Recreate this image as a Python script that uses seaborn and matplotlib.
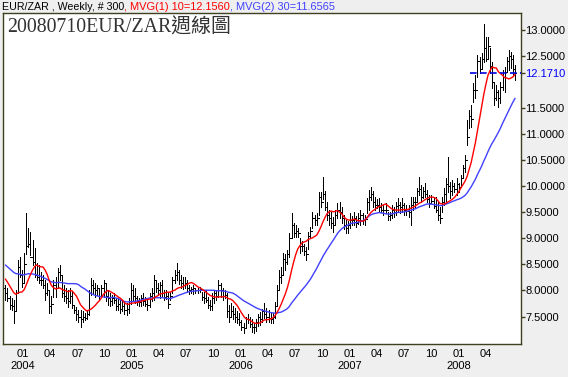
import numpy as np
import pandas as pd
import matplotlib
matplotlib.use("Agg")
import matplotlib.pyplot as plt
import matplotlib.dates as mdates
import seaborn as sns

sns.set_style("white")
plt.rcParams["font.family"] = ["Liberation Sans", "DejaVu Sans"]

# ---------------- data ----------------
first_week = "2003-11-03"

# weekly closes before the visible window (only feed the moving averages)
prior_closes = [8.90, 8.80, 8.75, 8.70, 8.65, 8.60, 8.55, 8.50, 8.45,
                8.50, 8.60, 8.70, 8.65, 8.60, 8.55, 8.60, 8.65, 8.60, 8.55, 8.60,
                8.45, 8.40, 8.35, 8.30, 8.25, 8.20, 8.15, 8.10, 8.05]

highs = [
    8.11, 8.05, 7.90, 7.85, 7.82, 8.00, 8.59, 8.64, 8.40, 8.72,
    9.49, 9.20, 9.12, 8.97, 8.82, 8.53, 8.49, 8.36, 8.30, 8.20,
    8.14, 8.00, 7.90, 8.20, 8.25, 8.43, 8.49, 8.30, 8.10, 8.05,
    8.00, 8.05, 7.97, 7.72, 7.68, 7.63, 7.63, 7.60, 7.57, 7.63,
    8.00, 8.24, 8.20, 8.14, 8.10, 8.05, 8.10, 8.20, 8.14, 8.00,
    7.95, 7.91, 7.95, 7.86, 7.86, 7.82, 7.80, 7.80, 7.76, 7.86,
    8.14, 8.10, 8.05, 7.90, 7.86, 7.91, 7.95, 7.88, 7.86, 7.95,
    8.05, 8.30, 8.20, 8.14, 8.16, 8.20, 8.00, 8.00, 7.97, 7.97,
    8.26, 8.39, 8.53, 8.39, 8.30, 8.25, 8.25, 8.20, 8.10, 8.07,
    8.10, 8.05, 8.05, 8.07, 7.97, 7.97, 8.00, 7.88, 7.82, 7.95,
    8.00, 8.00, 8.20, 8.14, 8.05, 8.00, 7.95, 7.72, 7.76, 7.70,
    7.66, 7.60, 7.57, 7.43, 7.38, 7.50, 7.55, 7.49, 7.45, 7.38,
    7.45, 7.55, 7.59, 7.65, 7.76, 7.66, 7.62, 7.57, 7.57, 7.78,
    8.10, 8.39, 8.45, 8.72, 8.70, 8.78, 9.10, 9.49, 9.30, 9.25,
    9.20, 9.00, 8.95, 8.90, 8.84, 9.12, 9.22, 9.50, 9.45, 9.48,
    9.89, 9.89, 10.18, 9.90, 9.70, 9.55, 9.50, 9.41, 9.55, 9.68,
    9.70, 9.60, 9.45, 9.36, 9.33, 9.48, 9.42, 9.50, 9.42, 9.48,
    9.55, 9.48, 9.44, 9.78, 9.93, 9.99, 9.90, 9.80, 9.75, 9.78,
    9.68, 9.65, 9.68, 9.50, 9.50, 9.64, 9.60, 9.70, 9.78, 9.70,
    9.78, 9.68, 9.64, 9.64, 9.80, 9.80, 9.80, 9.97, 10.18, 10.02,
    9.99, 10.06, 9.93, 9.83, 9.83, 9.78, 9.80, 9.70, 9.60, 9.80,
    9.97, 10.16, 10.56, 10.08, 10.12, 10.06, 10.16, 10.06, 10.22, 10.41,
    10.60, 11.27, 11.46, 11.56, 11.98, 12.14, 12.52, 12.48, 12.56, 13.12,
    12.87, 12.87, 12.65, 12.39, 12.00, 11.94, 11.85, 12.00, 12.23, 12.29,
    12.48, 12.62, 12.58, 12.52, 12.33,
]

lows = [
    7.82, 7.80, 7.65, 7.62, 7.38, 7.60, 7.95, 8.26, 8.07, 8.15,
    8.70, 8.84, 8.68, 8.49, 8.26, 8.20, 8.14, 8.11, 8.05, 7.82,
    7.91, 7.57, 7.57, 7.88, 7.88, 8.07, 8.20, 7.88, 7.80, 7.76,
    7.68, 7.76, 7.66, 7.57, 7.43, 7.40, 7.30, 7.40, 7.43, 7.46,
    7.53, 7.91, 7.95, 7.88, 7.91, 7.82, 7.88, 7.88, 7.80, 7.72,
    7.70, 7.72, 7.76, 7.63, 7.63, 7.57, 7.60, 7.55, 7.53, 7.57,
    7.75, 7.80, 7.76, 7.72, 7.70, 7.70, 7.72, 7.70, 7.63, 7.68,
    7.80, 7.82, 7.97, 7.91, 7.85, 7.88, 7.82, 7.84, 7.66, 7.82,
    7.95, 8.14, 8.20, 8.12, 8.05, 8.02, 8.05, 7.97, 7.93, 7.95,
    7.93, 7.95, 7.95, 7.97, 7.82, 7.76, 7.78, 7.66, 7.63, 7.63,
    7.76, 7.82, 7.88, 7.88, 7.82, 7.86, 7.49, 7.40, 7.49, 7.45,
    7.40, 7.38, 7.34, 7.24, 7.18, 7.30, 7.38, 7.30, 7.20, 7.18,
    7.22, 7.32, 7.34, 7.40, 7.47, 7.40, 7.40, 7.38, 7.38, 7.47,
    7.70, 8.00, 8.15, 8.30, 8.40, 8.50, 8.65, 9.03, 9.03, 9.03,
    9.03, 8.72, 8.75, 8.68, 8.59, 8.80, 9.00, 9.20, 9.25, 9.25,
    9.45, 9.60, 9.75, 9.55, 9.35, 9.26, 9.20, 9.12, 9.25, 9.39,
    9.40, 9.30, 9.18, 9.10, 9.10, 9.20, 9.25, 9.25, 9.22, 9.27,
    9.25, 9.28, 9.26, 9.49, 9.55, 9.74, 9.60, 9.55, 9.58, 9.52,
    9.51, 9.45, 9.49, 9.35, 9.35, 9.39, 9.41, 9.45, 9.51, 9.49,
    9.51, 9.45, 9.45, 9.41, 9.26, 9.54, 9.58, 9.70, 9.83, 9.70,
    9.78, 9.80, 9.70, 9.60, 9.68, 9.58, 9.50, 9.35, 9.30, 9.51,
    9.64, 9.70, 9.89, 9.78, 9.83, 9.89, 9.83, 9.89, 9.99, 10.16,
    10.27, 10.79, 11.12, 11.14, 11.62, 11.69, 12.10, 12.17, 12.27, 12.39,
    12.40, 12.46, 12.17, 11.89, 11.56, 11.66, 11.52, 11.60, 11.85, 11.81,
    12.19, 12.23, 12.27, 12.14, 12.04,
]

closes = [
    7.95, 7.85, 7.72, 7.70, 7.60, 7.95, 8.45, 8.30, 8.15, 8.50,
    8.85, 8.90, 8.65, 8.55, 8.30, 8.25, 8.20, 8.20, 8.10, 7.95,
    8.00, 7.70, 7.75, 8.10, 8.05, 8.35, 8.30, 7.95, 7.90, 7.85,
    7.80, 7.90, 7.72, 7.62, 7.55, 7.50, 7.45, 7.50, 7.48, 7.55,
    7.95, 8.10, 8.05, 8.00, 8.05, 7.90, 8.05, 8.15, 7.90, 7.85,
    7.80, 7.85, 7.82, 7.70, 7.75, 7.65, 7.70, 7.62, 7.65, 7.80,
    8.00, 7.90, 7.85, 7.80, 7.78, 7.85, 7.80, 7.75, 7.72, 7.90,
    7.95, 8.20, 8.05, 8.00, 8.10, 7.95, 7.88, 7.90, 7.75, 7.90,
    8.20, 8.30, 8.35, 8.20, 8.15, 8.10, 8.15, 8.05, 8.00, 8.02,
    8.05, 8.00, 8.00, 8.02, 7.88, 7.85, 7.82, 7.72, 7.70, 7.85,
    7.95, 7.90, 8.10, 8.00, 7.90, 7.92, 7.60, 7.50, 7.60, 7.55,
    7.50, 7.45, 7.40, 7.30, 7.28, 7.45, 7.45, 7.35, 7.30, 7.30,
    7.40, 7.50, 7.45, 7.60, 7.55, 7.50, 7.48, 7.45, 7.50, 7.70,
    8.00, 8.25, 8.30, 8.60, 8.55, 8.70, 9.00, 9.25, 9.10, 9.15,
    9.10, 8.85, 8.85, 8.75, 8.70, 9.05, 9.15, 9.40, 9.35, 9.40,
    9.80, 9.70, 9.85, 9.60, 9.45, 9.40, 9.30, 9.25, 9.45, 9.55,
    9.50, 9.40, 9.25, 9.20, 9.25, 9.35, 9.35, 9.40, 9.30, 9.40,
    9.45, 9.35, 9.38, 9.70, 9.80, 9.85, 9.70, 9.65, 9.65, 9.60,
    9.55, 9.55, 9.55, 9.42, 9.45, 9.55, 9.50, 9.62, 9.65, 9.60,
    9.65, 9.55, 9.52, 9.50, 9.65, 9.70, 9.70, 9.90, 9.95, 9.80,
    9.90, 9.85, 9.75, 9.68, 9.72, 9.62, 9.55, 9.45, 9.40, 9.70,
    9.85, 10.05, 10.00, 9.90, 10.00, 9.95, 10.05, 9.98, 10.15, 10.35,
    10.50, 10.95, 11.35, 11.30, 11.85, 11.85, 12.40, 12.25, 12.45, 12.65,
    12.45, 12.70, 12.30, 12.00, 11.70, 11.80, 11.70, 11.90, 12.10, 12.20,
    12.40, 12.50, 12.45, 12.25, 12.171,
]

last_close = 12.1710
title_main = "EUR/ZAR , Weekly, # 300"
title_ma1 = ", MVG(1) 10=12.1560"
title_ma2 = ", MVG(2) 30=11.6565"
big_title = "20080710EUR/ZAR週線圖"
y_ticks = [7.5, 8.0, 8.5, 9.0, 9.5, 10.0, 10.5, 11.0, 11.5, 12.5, 13.0]
x_tick_dates = pd.date_range("2004-01-01", "2008-04-01", freq="QS")

assert len(highs) == len(lows) == len(closes)

# ---------------- derived series ----------------
dates = pd.date_range(first_week, periods=len(closes), freq="7D")
xnum = mdates.date2num(dates)
all_c = pd.Series(prior_closes + closes)
ma10 = all_c.rolling(10).mean().iloc[-len(closes):].to_numpy()
ma30 = all_c.rolling(30).mean().iloc[-len(closes):].to_numpy()
opens = [prior_closes[-1]] + closes[:-1]

# ---------------- figure ----------------
BG = "#EFEFEF"
FRAME = "#404020"
RED = "#FF0000"
BLUE = "#4040FF"
PX = 72 / 100  # one pixel in points

fig = plt.figure(figsize=(5.68, 3.77), dpi=100, facecolor=BG)
ax = fig.add_axes([0.00475, 0.0881, 0.9120, 0.8769])
ax.set_facecolor("white")

# OHLC bars (crisp 1-px strokes, like the reference bitmap)
ax.vlines(xnum, lows, highs, color="black", lw=PX, zorder=2, antialiased=False)
ax.hlines(opens, xnum - 3.5, xnum, color="black", lw=PX, zorder=2, antialiased=False)
ax.hlines(closes, xnum, xnum + 3.5, color="black", lw=PX, zorder=2, antialiased=False)

# moving averages
sns.lineplot(x=xnum, y=ma30, ax=ax, color=BLUE, lw=1.0, estimator=None, zorder=3)
sns.lineplot(x=xnum, y=ma10, ax=ax, color=RED, lw=1.0, estimator=None, zorder=4)

# last price dashed line
ax.axhline(last_close, xmin=0.902, xmax=1.0, color="#0000E0", lw=1.2,
           ls=(0, (4, 2)), zorder=5)

ax.set_xlim(mdates.date2num(pd.Timestamp("2003-10-25")),
            mdates.date2num(pd.Timestamp("2008-07-26")))
ax.set_ylim(6.977, 13.322)

# x axis
ax.set_xticks(mdates.date2num(x_tick_dates))
ax.set_xticklabels([f"{d.month:02d}" + (f"\n{d.year}" if d.month == 1 else "")
                    for d in x_tick_dates])
ax.tick_params(axis="x", direction="out", length=2.5, width=1, color=FRAME,
               labelsize=8, pad=1.5, labelcolor="black")

# y axis on the right
yt = sorted(y_ticks + [last_close])
ax.yaxis.tick_right()
ax.set_yticks(yt)
ax.set_yticklabels([f"{v:.4f}" for v in yt])
ax.tick_params(axis="y", direction="out", length=3.0, width=1, color=FRAME,
               labelsize=8, pad=0.3, labelcolor="black")
for t, v in zip(ax.yaxis.get_major_ticks(), yt):
    if abs(v - last_close) < 1e-9:
        t.label2.set_color("#0000FF")
        t.tick2line.set_color("#0000FF")

ax.set_xlabel("")
ax.set_ylabel("")
for s in ax.spines.values():
    s.set_visible(True)
    s.set_color(FRAME)
    s.set_linewidth(1.0)

# header texts
hy = 1 - 6.5 / 377
t1 = fig.text(2 / 568, hy, title_main, fontsize=7.7, color="black",
              va="center", ha="left")
t2 = fig.text(0, 0, title_ma1, fontsize=7.9, color=RED, va="center", ha="left")
t3 = fig.text(0, 0, title_ma2, fontsize=7.9, color=BLUE, va="center", ha="left")
fig.canvas.draw()
r = fig.canvas.get_renderer()
bb1 = t1.get_window_extent(r)
t2.set_position((bb1.x1 / fig.bbox.width, hy))
fig.canvas.draw()
bb2 = t2.get_window_extent(r)
t3.set_position((bb2.x1 / fig.bbox.width, hy))

fig.text(7 / 568, 1 - 28 / 377, big_title, fontsize=14.3, color="#333333",
         va="center", ha="left",
         family=["Liberation Serif", "Noto Sans CJK TC", "DejaVu Sans"])

fig.savefig("out.png", dpi=100, facecolor=BG)
